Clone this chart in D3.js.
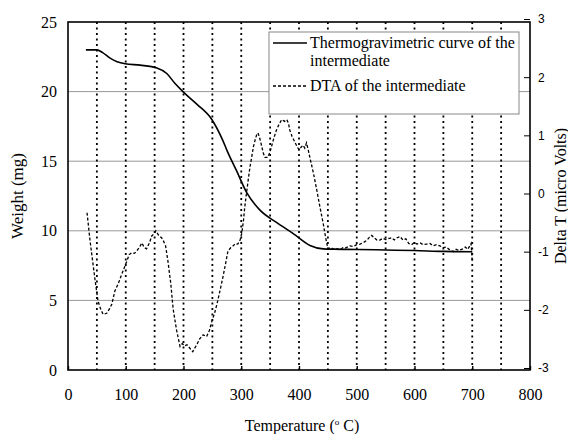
<!DOCTYPE html>
<html>
<head>
<meta charset="utf-8">
<script src="https://cdn.jsdelivr.net/npm/d3@7"></script>
<style>
  body { margin: 0; background: #fff; }
  svg { display: block; }
  .serif { font-family: "Liberation Serif", "Times New Roman", Times, serif; font-size: 16px; }
  .sans { font-family: "Liberation Sans", Arial, sans-serif; font-size: 12px; }
</style>
</head>
<body>
<svg width="568" height="434"></svg>
<script>
// TG curve (weight, mg)
var tgTemp = [31, 50, 60, 73, 85, 99, 125, 154, 171, 185, 199, 223, 249, 268, 275, 292, 310, 332, 361, 390, 419, 442, 460, 500, 550, 600, 650, 700];
var tgWeight = [23.0, 23.0, 22.8, 22.4, 22.15, 22.0, 21.9, 21.7, 21.3, 20.6, 20.0, 19.1, 18.0, 16.5, 15.8, 14.3, 12.7, 11.5, 10.6, 9.8, 8.95, 8.7, 8.68, 8.66, 8.62, 8.58, 8.52, 8.5];

// DTA curve (delta T, micro volts)
var dtaTemp = [33, 38, 47, 52, 57, 61, 67, 72, 76, 81, 87, 93, 102, 106, 110, 115, 119, 124, 128, 132, 136, 141, 145, 150, 152, 157, 162, 165, 169, 173, 178, 182, 188, 194, 198, 202, 206, 211, 216, 220, 223, 228, 234, 240, 245, 249, 254, 258, 263, 268, 272, 277, 282, 286, 290, 294, 298, 301, 304, 306, 309, 312, 315, 318, 321, 324, 327, 329, 332, 335, 338, 341, 346, 350, 353, 357, 361, 365, 370, 375, 379, 382, 384, 388, 393, 397, 400, 404, 407, 410, 413, 416, 419, 425, 431, 436, 442, 446, 450, 455, 460, 466, 471, 476, 480, 488, 494, 500, 506, 512, 518, 522, 526, 530, 535, 540, 545, 550, 554, 560, 565, 570, 575, 580, 585, 590, 595, 600, 604, 610, 615, 621, 627, 632, 638, 644, 650, 655, 660, 667, 672, 677, 684, 688, 692, 696, 698, 700];
var dtaValue = [-0.33, -0.8, -1.5, -1.85, -2.0, -2.08, -2.06, -1.98, -1.9, -1.68, -1.55, -1.39, -1.16, -1.05, -1.02, -1.03, -0.99, -0.92, -0.85, -0.93, -0.95, -0.85, -0.73, -0.68, -0.64, -0.72, -0.76, -0.81, -0.9, -1.16, -1.55, -1.98, -2.35, -2.63, -2.58, -2.62, -2.6, -2.66, -2.72, -2.65, -2.6, -2.5, -2.43, -2.46, -2.35, -2.2, -2.05, -1.9, -1.68, -1.45, -1.25, -0.99, -0.93, -0.9, -0.86, -0.87, -0.8, -0.68, -0.45, -0.24, 0.0, 0.23, 0.45, 0.62, 0.8, 0.92, 1.02, 1.04, 0.95, 0.83, 0.7, 0.62, 0.62, 0.72, 0.83, 0.97, 1.09, 1.18, 1.27, 1.24, 1.27, 1.2, 1.09, 0.98, 0.88, 0.8, 0.75, 0.8, 0.83, 0.78, 0.87, 0.75, 0.61, 0.35, 0.05, -0.22, -0.52, -0.75, -0.95, -0.93, -0.96, -0.95, -0.97, -0.93, -0.94, -0.9, -0.91, -0.88, -0.87, -0.84, -0.8, -0.75, -0.72, -0.76, -0.8, -0.8, -0.77, -0.79, -0.78, -0.76, -0.8, -0.76, -0.74, -0.8, -0.78, -0.86, -0.88, -0.84, -0.87, -0.85, -0.88, -0.87, -0.86, -0.9, -0.88, -0.9, -0.93, -0.92, -0.96, -1.0, -0.96, -0.98, -0.95, -0.92, -0.96, -0.9, -0.86, -1.16];

var xTicks = [0, 100, 200, 300, 400, 500, 600, 700, 800];
var vLines = [50, 100, 150, 200, 250, 300, 350, 400, 450, 500, 550, 600, 650, 700, 750];
var leftTicks = [0, 5, 10, 15, 20, 25];
var gridTicks = [5, 10, 15, 20];
var rightTicks = [-3, -2, -1, 0, 1, 2, 3];

var legendLabels = ["Thermogravimetric curve of the", "intermediate", "DTA of the intermediate"];

var svg = d3.select("svg");

var x = d3.scaleLinear().domain([0, 800]).range([68, 530]);
var yL = d3.scaleLinear().domain([0, 25]).range([370, 22]);
var yR = d3.scaleLinear().domain([-3, 3]).range([368, 19]);

// horizontal grey grid lines
svg.append("g").selectAll("line")
    .data(gridTicks)
    .enter().append("line")
    .attr("x1", x(0)).attr("x2", x(800))
    .attr("y1", function (d) { return yL(d); })
    .attr("y2", function (d) { return yL(d); })
    .attr("stroke", "#999")
    .attr("stroke-width", 1);

// vertical dotted lines every 50 deg
svg.append("g").selectAll("line")
    .data(vLines)
    .enter().append("line")
    .attr("x1", function (d) { return x(d); })
    .attr("x2", function (d) { return x(d); })
    .attr("y1", yL(25)).attr("y2", yL(0))
    .attr("stroke", "#000")
    .attr("stroke-width", 1.8)
    .attr("stroke-dasharray", "2,3.5");

// frame
svg.append("rect")
    .attr("x", x(0)).attr("y", yL(25))
    .attr("width", x(800) - x(0)).attr("height", yL(0) - yL(25))
    .attr("fill", "none")
    .attr("stroke", "#000")
    .attr("stroke-width", 1.6);

// bottom axis (ticks pointing up)
var xAxis = svg.append("g")
    .attr("transform", "translate(0," + yL(0) + ")")
    .call(d3.axisBottom(x).tickValues(xTicks).tickSizeInner(-4).tickSizeOuter(0).tickPadding(19));
xAxis.attr("font-family", null).attr("font-size", null);
xAxis.select(".domain").remove();
xAxis.selectAll("line").attr("stroke-width", 1.4);
xAxis.selectAll("text").attr("class", "serif").attr("fill", "#000");

// left axis
var leftAxis = svg.append("g")
    .attr("transform", "translate(" + x(0) + ",0)")
    .call(d3.axisLeft(yL).tickValues(leftTicks).tickSize(0).tickPadding(11));
leftAxis.attr("font-family", null).attr("font-size", null);
leftAxis.select(".domain").remove();
leftAxis.selectAll("text").attr("class", "serif").attr("fill", "#000");

// right axis (ticks pointing in), plain hyphen minus as in the original
var rightAxis = svg.append("g")
    .attr("transform", "translate(" + x(800) + ",0)")
    .call(d3.axisRight(yR).tickValues(rightTicks)
        .tickFormat(function (d) { return String(d); })
        .tickSizeInner(-6).tickSizeOuter(0).tickPadding(8));
rightAxis.attr("font-family", null).attr("font-size", null);
rightAxis.select(".domain").remove();
rightAxis.selectAll("text").attr("class", "sans").attr("fill", "#000");

// curves
var tgData = tgTemp.map(function (t, i) { return [t, tgWeight[i]]; });
var dtaData = dtaTemp.map(function (t, i) { return [t, dtaValue[i]]; });

svg.append("path")
    .datum(dtaData)
    .attr("fill", "none")
    .attr("stroke", "#000")
    .attr("stroke-width", 1.3)
    .attr("stroke-dasharray", "3,2")
    .attr("d", d3.line()
        .x(function (d) { return x(d[0]); })
        .y(function (d) { return yR(d[1]); }));

svg.append("path")
    .datum(tgData)
    .attr("fill", "none")
    .attr("stroke", "#000")
    .attr("stroke-width", 1.6)
    .attr("d", d3.line()
        .curve(d3.curveMonotoneX)
        .x(function (d) { return x(d[0]); })
        .y(function (d) { return yL(d[1]); }));

// legend
var legend = svg.append("g");
legend.append("rect")
    .attr("x", 269).attr("y", 32)
    .attr("width", 250).attr("height", 82)
    .attr("fill", "#fff")
    .attr("stroke", "#888")
    .attr("stroke-width", 1);
legend.append("line")
    .attr("x1", 273).attr("x2", 307).attr("y1", 43).attr("y2", 43)
    .attr("stroke", "#000").attr("stroke-width", 1.6);
legend.append("line")
    .attr("x1", 273).attr("x2", 307).attr("y1", 86).attr("y2", 86)
    .attr("stroke", "#000").attr("stroke-width", 1.3).attr("stroke-dasharray", "3,2");
legend.selectAll("text.lab")
    .data(legendLabels)
    .enter().append("text")
    .attr("class", "serif")
    .attr("x", 310)
    .attr("y", function (d, i) { return [48, 66, 91][i]; })
    .text(function (d) { return d; });

// axis titles
svg.append("text")
    .attr("class", "serif")
    .style("font-size", "17px")
    .attr("transform", "translate(23,196) rotate(-90)")
    .attr("text-anchor", "middle")
    .text("Weight (mg)");

svg.append("text")
    .attr("class", "serif")
    .attr("transform", "translate(566,196) rotate(-90)")
    .attr("text-anchor", "middle")
    .text("Delta T (micro Volts)");

var xt = svg.append("text")
    .attr("class", "serif")
    .attr("x", 302).attr("y", 431)
    .attr("text-anchor", "middle");
xt.append("tspan").text("Temperature (");
xt.append("tspan").attr("dy", -6).style("font-size", "9px").text("o");
xt.append("tspan").attr("dy", 6).text(" C)");
</script>
</body>
</html>
